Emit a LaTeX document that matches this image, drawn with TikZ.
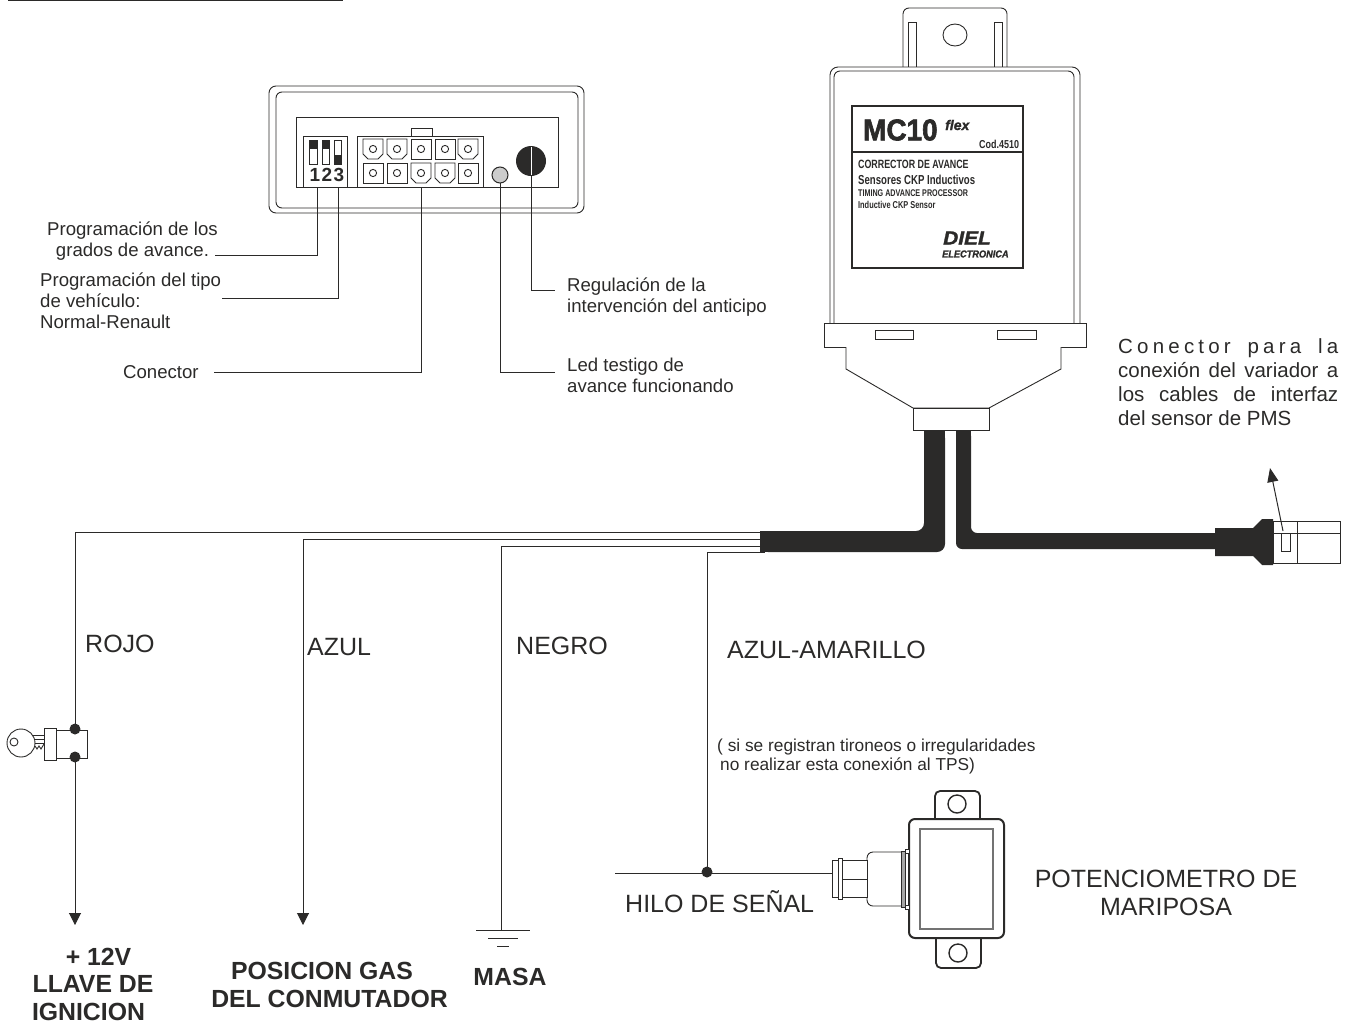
\documentclass[tikz,border=0pt]{standalone}
\usepackage{fontspec}
\setmainfont{Liberation Sans}
\newfontfamily\heavyfont[FakeBold=2.2]{Liberation Sans Bold}
\newfontfamily\heavyital[FakeBold=1.5]{Liberation Sans Bold Italic}
\usetikzlibrary{arrows.meta}
\definecolor{ink}{HTML}{2B2A29}
\tikzset{
  wire/.style={draw=ink,line width=1pt},
  thin part/.style={draw=ink,line width=.9pt,fill=white},
  tipwire/.style={wire,-{Triangle[width=12pt,length=12pt]}},
  lbl/.style={inner sep=0pt,text=ink,anchor=west,align=left,font=\fontsize{18.6}{21}\selectfont},
  biglbl/.style={inner sep=0pt,text=ink,anchor=west,font=\fontsize{25}{28}\selectfont},
  boldlbl/.style={inner sep=0pt,text=ink,align=center,font=\fontsize{24.8}{27.5}\selectfont\bfseries},
  narrow/.style={inner sep=0pt,text=ink,anchor=west,xscale=#1,transform shape,font=\bfseries}
}
\begin{document}
\begin{tikzpicture}[x=1pt,y=-1pt]
\useasboundingbox (0,0) rectangle (1346,1023);

\draw[ink,line width=2pt] (8,0) -- (343,0);

% panel frontal
\draw[thin part,rounded corners=7pt] (269,86) rectangle (584,213);
\draw[thin part,rounded corners=6pt] (276,92) rectangle (578,208);
\draw[thin part] (296,117) rectangle (558,187);
\draw[thin part] (303,136) rectangle (347,187);
\draw[thin part] (411,128) rectangle (432,136);
\draw[thin part] (357,136) rectangle (483,187);

\draw[thin part] (309,140) rectangle (317,164);
\fill[ink] (309,140) rectangle (317,149);
\draw[thin part] (322,140) rectangle (329,164);
\fill[ink] (322,140) rectangle (329,149);
\draw[thin part] (334,140) rectangle (341,164);
\fill[ink] (334,155) rectangle (341,164);
\foreach \x/\n in {315/1,327/2,339/3}
  \node[inner sep=0pt,text=ink,font=\fontsize{19}{19}\selectfont\bfseries] (dip\n) at (\x,175) {\n};

\foreach \x/\y in {373/149,397/149,468/149,421/173,445/173}
  \draw[thin part] (\x-10,\y-10) -- (\x+10,\y-10) -- (\x+10,\y+5) -- (\x+5,\y+10) -- (\x-5,\y+10) -- (\x-10,\y+5) -- cycle;
\foreach \x/\y in {421/149,445/149,373/173,397/173,468/173}
  \draw[thin part] (\x-10,\y-10) rectangle (\x+10,\y+10);
\foreach \x in {373,397,421,445,468} {
  \draw[thin part] (\x,149) circle (3.6pt);
  \draw[thin part] (\x,173) circle (3.6pt);
}

\draw[ink,line width=1pt,fill=black!20] (500,175) coordinate (led) circle (8pt);
\fill[ink] (531,161) coordinate (knob) circle (15pt);
\draw[white,line width=.8pt] (531,147) -- (531,175);

\coordinate (dipA) at (317,187);
\coordinate (dipB) at (338,187);
\coordinate (conn) at (421,187);
\draw[wire] (dipA) -- (317,255) -- (215,255) coordinate (txtA);
\draw[wire] (dipB) -- (338,298) -- (222,298) coordinate (txtB);
\draw[wire] (conn) -- (421,372) -- (214,372) coordinate (txtC);
\draw[wire] (500,183) -- (500,372) -- (555,372) coordinate (txtD);
\draw[wire] (531,176) -- (531,290) -- (555,290) coordinate (txtE);

\node[lbl,align=center] (lblgrados) at (47,241) {Programación de los\\grados de avance.};
\node[lbl] (lbltipo) at (40,301) {Programación del tipo\\de vehículo:\\Normal-Renault};
\node[lbl] (lblconector) at (123,372) {Conector};
\node[lbl] (lblregula) at (567,297) {Regulación de la\\intervención del anticipo};
\node[lbl] (lblled) at (567,375) {Led testigo de\\avance funcionando};

% modulo MC10
\draw[thin part,rounded corners=6pt] (903,70) -- (903,8) -- (1007,8) -- (1007,70);
\draw[thin part] (908,67) -- (908,22) -- (916,22) -- (916,67);
\draw[thin part] (994,67) -- (994,22) -- (1002,22) -- (1002,67);
\draw[ink,line width=.9pt] (955,35) ellipse (12pt and 11pt);
\draw[thin part,rounded corners=8pt] (830,330) -- (830,67) -- (1080,67) -- (1080,330);
\draw[thin part,rounded corners=6pt] (834,330) -- (834,71) -- (1074,71) -- (1074,330);
\draw[ink,line width=2pt,fill=white] (852,106) rectangle (1023,268);
\draw[ink,line width=2pt] (852,152) -- (1023,152);

\node[narrow=.93,font=\fontsize{30}{30}\selectfont\heavyfont] (mcname) at (863,130) {MC10};
\node[narrow=1,font=\fontsize{14}{14}\selectfont\heavyital] (mcflex) at (945,125) {flex};
\node[narrow=.78,font=\fontsize{11.5}{11.5}\selectfont\bfseries] (mccod) at (979,144) {Cod.4510};
\node[narrow=.74,font=\fontsize{12}{12}\selectfont\bfseries] (mcA) at (858,164) {CORRECTOR DE AVANCE};
\node[narrow=.74,font=\fontsize{13}{13}\selectfont\bfseries] (mcB) at (858,180) {Sensores CKP Inductivos};
\node[narrow=.74,font=\fontsize{9.7}{9.7}\selectfont\bfseries] (mcC) at (858,193) {TIMING ADVANCE PROCESSOR};
\node[narrow=.74,font=\fontsize{10}{10}\selectfont\bfseries] (mcD) at (858,205) {Inductive CKP Sensor};
\node[narrow=1.1,font=\fontsize{19}{19}\selectfont\heavyital] (mcdiel) at (943,238) {DIEL};
\node[narrow=.92,font=\fontsize{10}{10}\selectfont\heavyital] (mcelec) at (942,254) {ELECTRONICA};

\draw[thin part] (824,323) rectangle (1086,347);
\draw[thin part] (875,330) rectangle (913,339);
\draw[thin part] (997,330) rectangle (1036,339);
\draw[thin part] (846,347) -- (846,369) -- (913,408) -- (989,408) -- (1061,369) -- (1061,347);
\draw[thin part] (913,408) rectangle (989,430) ;

% cables
\draw[wire] (75,532) coordinate (wireA) -- (765,532);
\draw[wire] (303,539) coordinate (wireB) -- (765,539);
\draw[wire] (501,546) coordinate (wireC) -- (765,546);
\draw[wire] (707,552) coordinate (wireD) -- (765,552);
\fill[ink,rounded corners=8pt] (924,430) -- (945,430) -- (945,552) -- (760,552) -- (760,531) -- (924,531) -- cycle;
\fill[ink] (760,531) rectangle (790,552);
\fill[ink] (924,430) rectangle (945,500);
\fill[ink,rounded corners=6pt] (956,430) -- (971,430) -- (971,533) -- (1230,533) -- (1230,549) -- (956,549) -- cycle;
\fill[ink] (956,430) rectangle (971,500);
\fill[ink] (1215,528) -- (1253,528) -- (1262,519) -- (1273,519) -- (1273,565) -- (1262,565) -- (1253,556) -- (1215,556) -- cycle;
\draw[thin part] (1273,521) rectangle (1340,563);
\draw[wire] (1297,521) -- (1297,563);
\draw[wire] (1273,533) -- (1340,533);
\draw[thin part] (1281,533) rectangle (1290,551);
\draw[wire,-{Triangle[width=11pt,length=14pt]}] (1283,531) -- (1270,468);

\node[inner sep=0pt,anchor=north west,text=ink,align=left,font=\fontsize{20.5}{24.3}\selectfont] (lblvariador) at (1118,338)
  {\makebox[220pt][s]{C o n e c t o r \ \ \ p a r a \ \ \ l a}\\
   \makebox[220pt][s]{conexión del variador a}\\
   \makebox[220pt][s]{los cables de interfaz}\\
   del sensor de PMS};

% llave
\draw[tipwire] (wireA) -- (75,925);
\draw[thin part] (56,730) rectangle (87,758);
\draw[thin part] (44,728) rectangle (56,760);
\foreach \y in {735,739,743}
  \draw[ink,line width=1pt] (33,\y) -- (44,\y);
\draw[thin part] (21,743) circle (14pt);
\draw[thin part] (14,742) circle (4pt);
\draw[ink,line width=.9pt] (35,746) -- (37,749) -- (39,746) -- (41,749) -- (44,744);
\fill[ink] (75,729) coordinate (dotA) circle (5.5pt);
\fill[ink] (75,757) coordinate (dotB) circle (5.5pt);

\draw[tipwire] (wireB) -- (303,925);

\draw[wire] (wireC) -- (501,930);
\draw[wire] (476,930) -- (530,930);
\draw[wire] (488,938) -- (518,938);
\draw[wire] (497,946) -- (509,946);

% potenciometro
\draw[wire] (wireD) -- (707,872);
\draw[wire] (615,873) coordinate (tpsin) -- (832,873) coordinate (tpsend);
\fill[ink] (707,872) coordinate (dotC) circle (5.5pt);
\draw[ink,fill=white,line width=1.8pt,rounded corners=5pt] (935,825) -- (935,791) -- (980,791) -- (980,825);
\draw[ink,fill=white,line width=1.8pt,rounded corners=5pt] (936,932) -- (936,968) -- (981,968) -- (981,932);
\draw[ink,line width=1.4pt] (957,804) circle (9pt);
\draw[ink,line width=1.4pt] (958,953) circle (9pt);
\draw[ink,fill=white,line width=2pt,rounded corners=6pt] (909,819) rectangle (1004,938);
\draw[black!55,line width=1.1pt] (920,829) rectangle (993,929);
\draw[thin part,rounded corners=6pt] (901,852) -- (867,852) -- (867,906) -- (901,906);
\draw[thin part,fill=black!35] (901,851) rectangle (905,907);
\draw[thin part] (905,849) rectangle (909,853);
\draw[thin part] (905,905) rectangle (909,909);
\draw[thin part] (842,860) rectangle (867,897);
\draw[wire] (842,879) -- (867,879);
\draw[thin part] (832,860) rectangle (838,897);
\draw[thin part] (838,858) rectangle (842,899);

\node[biglbl] (lblrojo) at (85,644) {ROJO};
\node[biglbl] (lblazul) at (307,647) {AZUL};
\node[biglbl] (lblnegro) at (516,646) {NEGRO};
\node[biglbl] (lblamarillo) at (727,650) {AZUL-AMARILLO};
\node[lbl,font=\fontsize{17.3}{19}\selectfont] (lblnota) at (717,757) {( si se registran tironeos o irregularidades\\\hspace*{3pt}no realizar esta conexión al TPS)};
\node[biglbl] (lblhilo) at (625,902) {HILO DE SEÑAL};
\node[biglbl,anchor=center,align=center] (lblpot) at (1166,893) {POTENCIOMETRO DE\\MARIPOSA};
\node[boldlbl] (lblllave) at (93,984) {\hspace*{11pt}+ 12V\\LLAVE DE\\\hspace*{-9pt}IGNICION};
\node[boldlbl] (lblgas) at (329.5,985) {\hspace*{-15pt}POSICION GAS\\DEL CONMUTADOR};
\node[boldlbl] (lblmasa) at (510,977) {MASA};

\end{tikzpicture}
\end{document}
